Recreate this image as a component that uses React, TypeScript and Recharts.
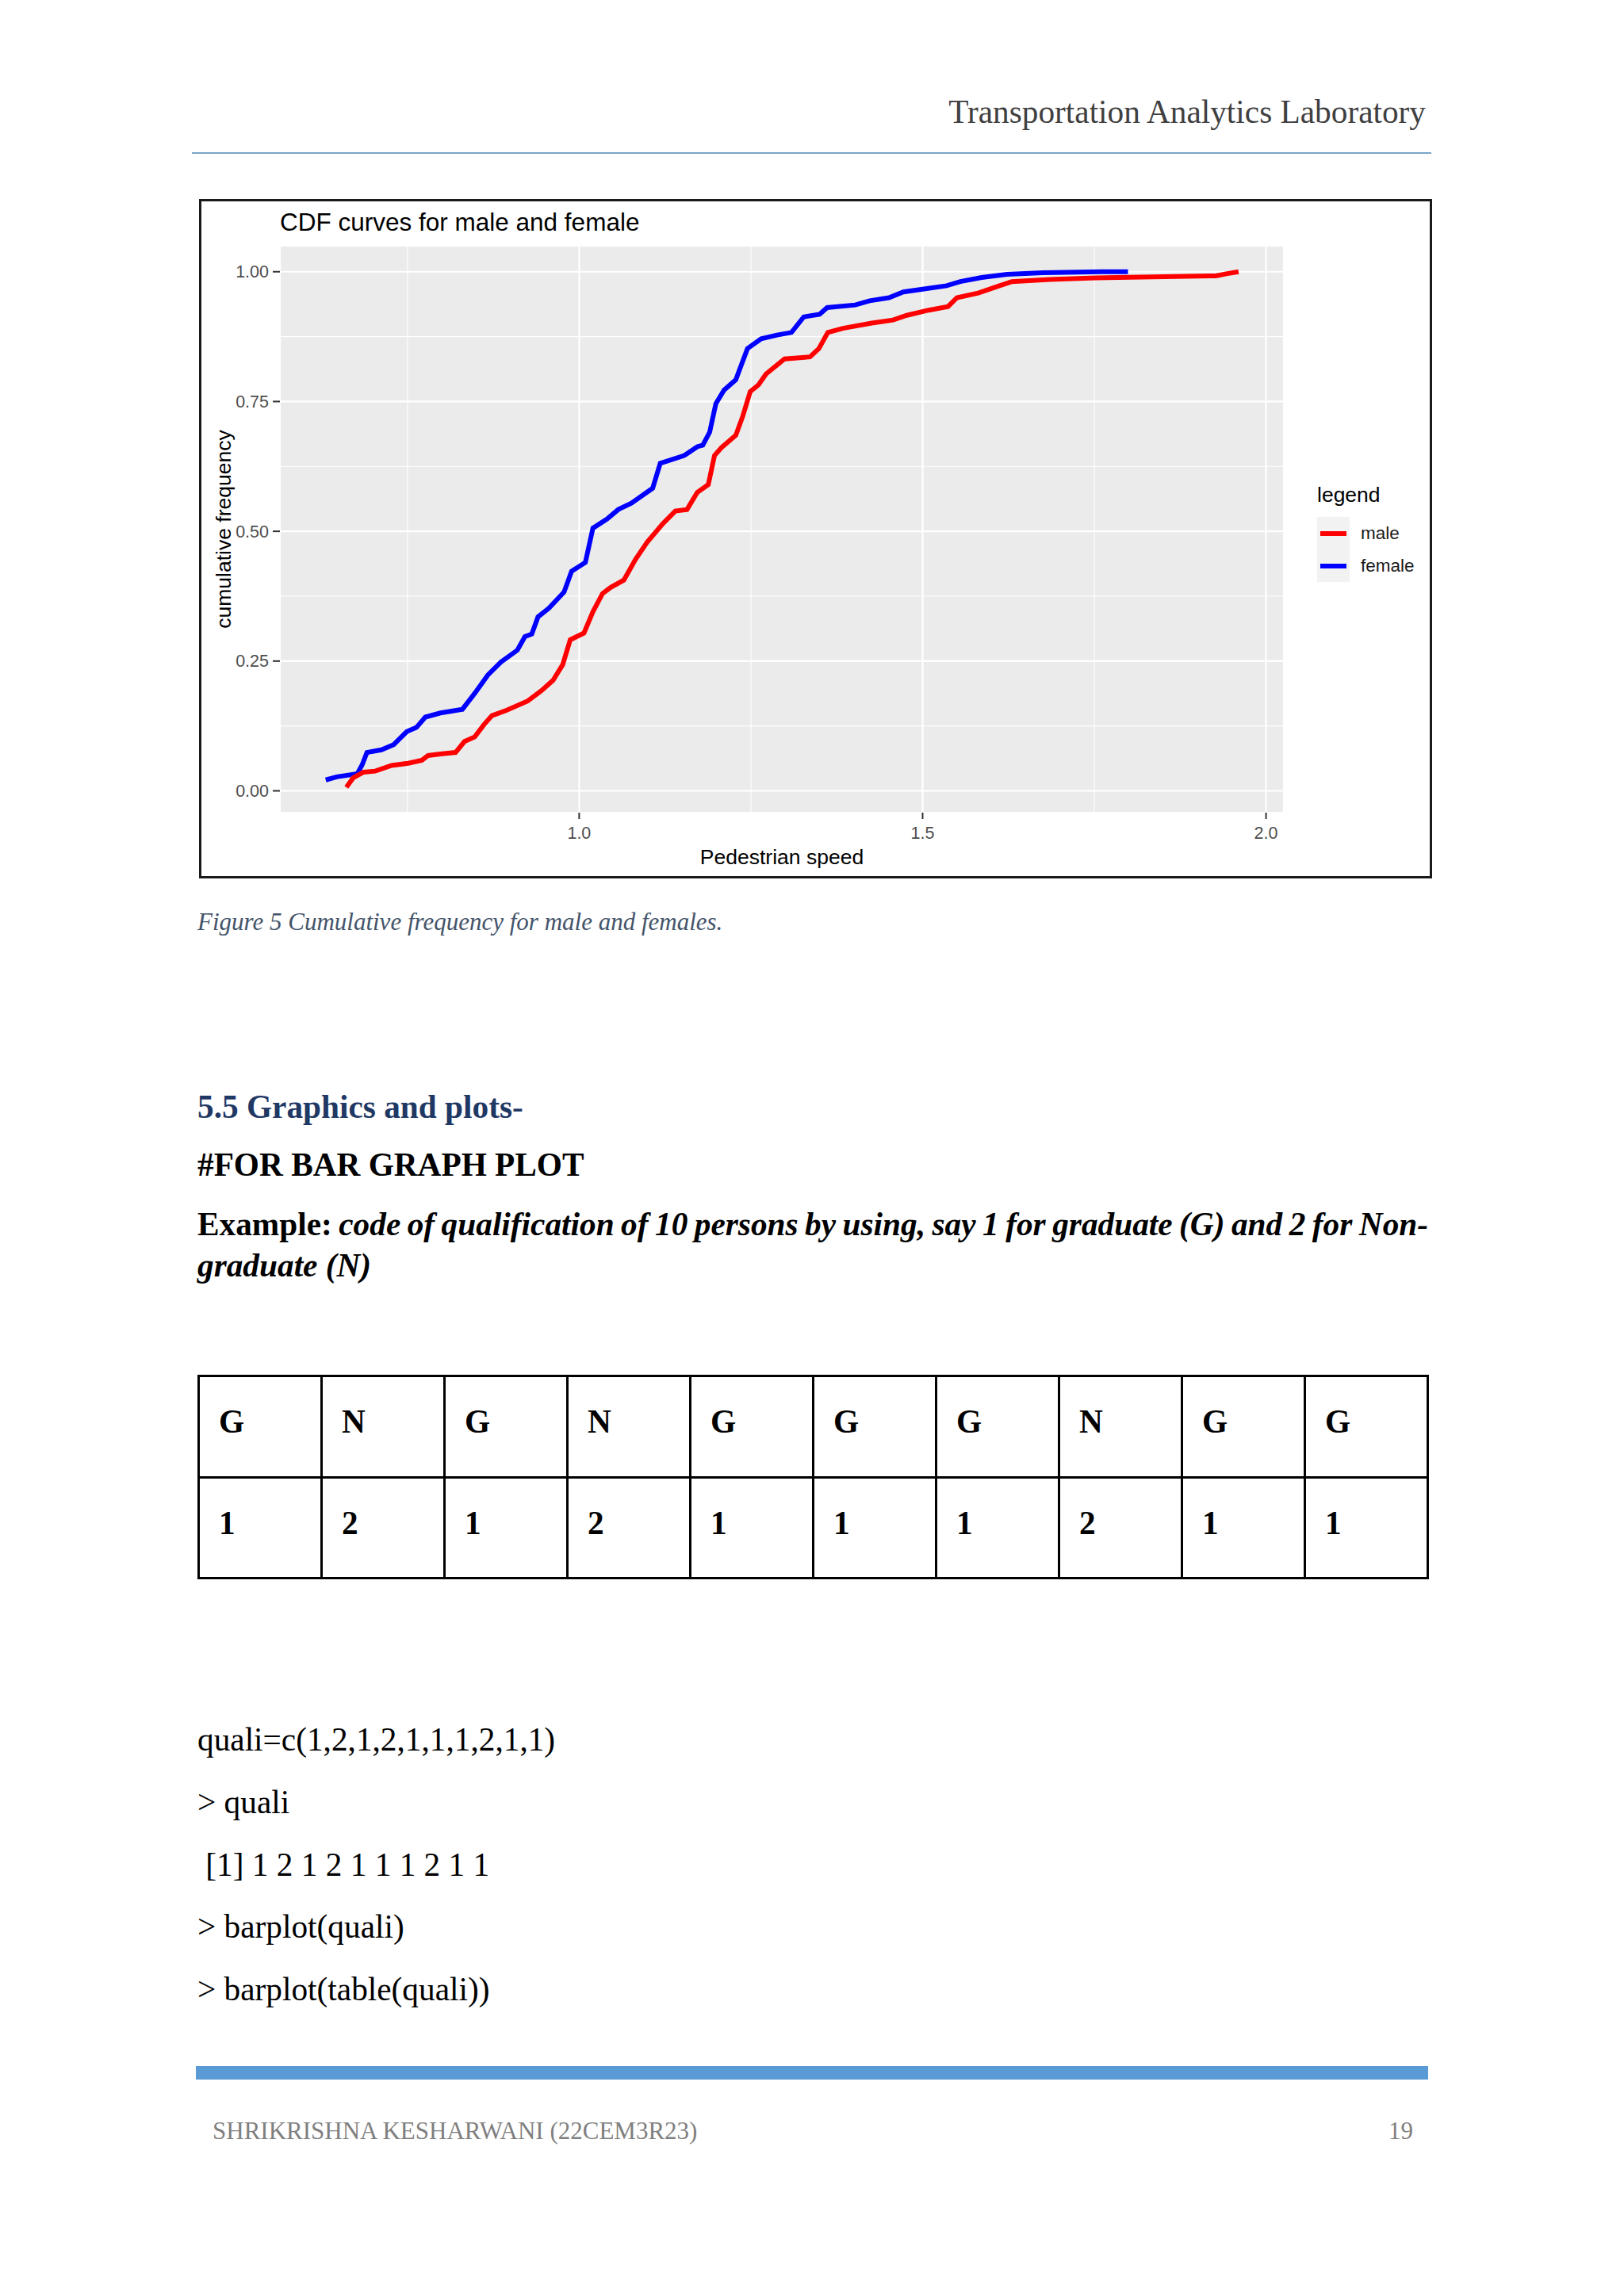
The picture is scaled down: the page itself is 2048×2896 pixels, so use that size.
import React from 'react';
import { LineChart, Line, XAxis, YAxis, CartesianGrid, ReferenceLine, Legend, Label } from 'recharts';

const femaleSpeed = [
  0.631, 0.647, 0.677, 0.684, 0.691, 0.712, 0.73, 0.749, 0.763, 0.776, 0.798, 0.83, 0.848, 0.867,
  0.886, 0.91, 0.921, 0.931, 0.94, 0.956, 0.978, 0.989, 1.009, 1.02, 1.041, 1.057, 1.076, 1.107,
  1.118, 1.153, 1.172, 1.18, 1.19, 1.199, 1.211, 1.228, 1.245, 1.265, 1.288, 1.309, 1.327, 1.35,
  1.361, 1.402, 1.423, 1.451, 1.472, 1.498, 1.535, 1.555, 1.586, 1.623, 1.675, 1.76, 1.799,
];
const femaleCdf = [
  0.021, 0.027, 0.033, 0.05, 0.074, 0.079, 0.089, 0.114, 0.122, 0.142, 0.15, 0.157, 0.188, 0.223,
  0.248, 0.271, 0.297, 0.302, 0.335, 0.352, 0.383, 0.423, 0.44, 0.506, 0.524, 0.542, 0.554, 0.583,
  0.631, 0.646, 0.663, 0.666, 0.691, 0.746, 0.772, 0.792, 0.852, 0.871, 0.878, 0.883, 0.913, 0.918,
  0.931, 0.936, 0.944, 0.95, 0.961, 0.966, 0.973, 0.981, 0.989, 0.995, 0.998, 1.0, 1.0,
];
const maleSpeed = [
  0.661, 0.671, 0.686, 0.703, 0.727, 0.751, 0.771, 0.78, 0.798, 0.82, 0.833, 0.848, 0.861, 0.873,
  0.894, 0.925, 0.945, 0.962, 0.976, 0.987, 1.007, 1.02, 1.034, 1.046, 1.065, 1.082, 1.099, 1.122,
  1.14, 1.157, 1.172, 1.188, 1.197, 1.207, 1.228, 1.238, 1.249, 1.261, 1.272, 1.299, 1.336, 1.349,
  1.362, 1.384, 1.426, 1.457, 1.477, 1.509, 1.537, 1.55, 1.581, 1.612, 1.63, 1.685, 1.752, 1.867,
  1.927, 1.942, 1.96,
];
const maleCdf = [
  0.007, 0.025, 0.036, 0.038, 0.049, 0.053, 0.059, 0.068, 0.071, 0.074, 0.095, 0.104, 0.127, 0.145,
  0.155, 0.173, 0.193, 0.213, 0.243, 0.291, 0.304, 0.345, 0.38, 0.392, 0.406, 0.446, 0.479, 0.515,
  0.539, 0.542, 0.575, 0.59, 0.646, 0.661, 0.685, 0.721, 0.769, 0.782, 0.803, 0.832, 0.836, 0.852,
  0.883, 0.891, 0.901, 0.907, 0.916, 0.926, 0.933, 0.95, 0.959, 0.973, 0.981, 0.985, 0.988, 0.991,
  0.992, 0.996, 1.0,
];

const xTicks = [1.0, 1.5, 2.0];
const xMinor = [0.75, 1.25, 1.75];
const yTicks = [0, 0.25, 0.5, 0.75, 1];
const yMinor = [0.125, 0.375, 0.625, 0.875];

const legendNames = ['male', 'female'];
const colors: Record<string, string> = { male: '#FF0000', female: '#0000FF' };

// the little table on the page
const tableLetters = ['G', 'N', 'G', 'N', 'G', 'G', 'G', 'N', 'G', 'G'];
const tableCodes = ['1', '2', '1', '2', '1', '1', '1', '2', '1', '1'];

const codeLines = [
  'quali=c(1,2,1,2,1,1,1,2,1,1)',
  '> quali',
  '\u00a0[1] 1 2 1 2 1 1 1 2 1 1',
  '> barplot(quali)',
  '> barplot(table(quali))',
];

const toPoints = (xs: number[], ys: number[]) => xs.map((x, i) => ({ speed: x, cdf: ys[i] }));
const femaleData = toPoints(femaleSpeed, femaleCdf);
const maleData = toPoints(maleSpeed, maleCdf);

const SERIF = '"Liberation Serif", "Times New Roman", serif';
const SANS = '"Liberation Sans", Arial, sans-serif';

// place a one-line text by its baseline
const Txt = ({ x, right, base, size, style, children }: any) => (
  <div
    style={{
      position: 'absolute',
      left: x,
      right,
      top: base - size * 0.8375,
      fontSize: size,
      lineHeight: `${size}px`,
      whiteSpace: 'pre',
      fontFamily: SERIF,
      ...style,
    }}
  >
    {children}
  </div>
);

const renderLegend = () => (
  <div style={{ position: 'relative', width: 160, height: 140, fontFamily: SANS }}>
    <div style={{ position: 'absolute', left: 2, top: 32 - 26.5 * 0.8465, fontSize: 26.5, lineHeight: '26.5px', color: '#000' }}>
      legend
    </div>
    {legendNames.map((name, i) => (
      <div key={name} style={{ position: 'absolute', left: 2, top: 51 + i * 41, height: 41, width: 160 }}>
        <div style={{ position: 'absolute', left: 0, top: 0, width: 41, height: 41, background: '#F2F2F2' }} />
        <div style={{ position: 'absolute', left: 4, top: 18, width: 33, height: 6, background: colors[name] }} />
        <div style={{ position: 'absolute', left: 55, top: 9, fontSize: 22.5, lineHeight: '23px', color: '#1a1a1a' }}>{name}</div>
      </div>
    ))}
  </div>
);

const XTitle = ({ viewBox }: any) => (
  <text x={viewBox.x + viewBox.width / 2} y={836} textAnchor="middle" fontFamily={SANS} fontSize={26.5} fill="#000">
    Pedestrian speed
  </text>
);

const YTitle = ({ viewBox }: any) => {
  const cy = viewBox.y + viewBox.height / 2;
  return (
    <text
      x={27.5}
      y={cy}
      transform={`rotate(-90, 27.5, ${cy})`}
      textAnchor="middle"
      dominantBaseline="central"
      fontFamily={SANS}
      fontSize={26.5}
      fill="#000"
    >
      cumulative frequency
    </text>
  );
};

const tickStyle = { fill: '#4D4D4D', fontSize: 21.5, fontFamily: SANS };

const CdfChart = () => (
  <LineChart width={1549} height={851} margin={{ top: 56, right: 184, left: 0, bottom: 0 }}>
    <CartesianGrid fill="#EBEBEB" stroke="#FFFFFF" strokeWidth={2.2} />
    {xMinor.map((v) => (
      <ReferenceLine key={'x' + v} x={v} stroke="#FFFFFF" strokeWidth={1.1} />
    ))}
    {yMinor.map((v) => (
      <ReferenceLine key={'y' + v} y={v} stroke="#FFFFFF" strokeWidth={1.1} />
    ))}
    <XAxis
      type="number"
      dataKey="speed"
      domain={[0.5643, 2.0259]}
      allowDataOverflow
      ticks={xTicks}
      interval={0}
      tickFormatter={(v: number) => v.toFixed(1)}
      height={80}
      tickSize={8}
      tickMargin={10}
      axisLine={false}
      tickLine={{ stroke: '#333333', strokeWidth: 2 }}
      tick={tickStyle}
    >
      <Label content={XTitle} />
    </XAxis>
    <YAxis
      type="number"
      dataKey="cdf"
      domain={[-0.042, 1.05]}
      allowDataOverflow
      ticks={yTicks}
      interval={0}
      tickFormatter={(v: number) => v.toFixed(2)}
      width={99}
      tickSize={9}
      tickMargin={5}
      axisLine={false}
      tickLine={{ stroke: '#333333', strokeWidth: 2 }}
      tick={tickStyle}
    >
      <Label content={YTitle} />
    </YAxis>
    <Legend
      layout="vertical"
      align="center"
      verticalAlign="middle"
      content={renderLegend}
      wrapperStyle={{ left: 1405, top: 347, width: 160 }}
    />
    <Line
      data={femaleData}
      dataKey="cdf"
      name="female"
      type="linear"
      stroke={colors.female}
      strokeWidth={6}
      dot={false}
      isAnimationActive={false}
    />
    <Line
      data={maleData}
      dataKey="cdf"
      name="male"
      type="linear"
      stroke={colors.male}
      strokeWidth={6}
      dot={false}
      isAnimationActive={false}
    />
  </LineChart>
);

export default function App() {
  const pitch = 155;
  const rowPitch = 127.5;
  return (
    <div style={{ position: 'absolute', left: 0, top: 0, width: 2048, height: 2896, background: '#fff', overflow: 'hidden', fontFamily: SERIF }}>
      {/* running header */}
      <Txt right={250} base={156} size={41.3} style={{ color: '#404040' }}>
        Transportation Analytics Laboratory
      </Txt>
      <div style={{ position: 'absolute', left: 242, top: 192, width: 1563, height: 2, background: '#7AA5C9' }} />

      {/* figure */}
      <div style={{ position: 'absolute', left: 251, top: 251, width: 1555, height: 857, border: '3px solid #1a1a1a', boxSizing: 'border-box', background: '#fff' }}>
        <div style={{ position: 'absolute', left: 99, top: 292 - 254 - 31.5 * 0.8465, fontFamily: SANS, fontSize: 31.5, lineHeight: '31.5px', color: '#000', whiteSpace: 'pre' }}>
          CDF curves for male and female
        </div>
        <CdfChart />
      </div>

      <Txt x={249} base={1173} size={31} style={{ fontStyle: 'italic', color: '#44546A' }}>
        Figure 5 Cumulative frequency for male and females.
      </Txt>

      <Txt x={249} base={1411} size={41.3} style={{ fontWeight: 'bold', color: '#1F3864' }}>
        5.5 Graphics and plots-
      </Txt>
      <Txt x={249} base={1484} size={41.3} style={{ fontWeight: 'bold', color: '#000' }}>
        #FOR BAR GRAPH PLOT
      </Txt>
      <div
        style={{
          position: 'absolute',
          left: 249,
          top: 1559 - 41.3 * 0.8375,
          width: 1552,
          fontSize: 41.3,
          lineHeight: '41.3px',
          fontWeight: 'bold',
          textAlign: 'justify',
          textAlignLast: 'justify',
          wordSpacing: '-3px',
          color: '#000',
        }}
      >
        Example: <i>code of qualification of 10 persons by using, say 1 for graduate (G) and 2 for Non-</i>
      </div>
      <Txt x={249} base={1611} size={41.3} style={{ fontWeight: 'bold', fontStyle: 'italic', color: '#000' }}>
        graduate (N)
      </Txt>

      {/* table */}
      {[tableLetters, tableCodes].map((row, r) =>
        row.map((cell, i) => (
          <div
            key={r + '-' + i}
            style={{
              position: 'absolute',
              left: 249 + i * pitch,
              top: 1734 + r * rowPitch,
              width: pitch + 3,
              height: rowPitch + 3,
              border: '3px solid #000',
              boxSizing: 'border-box',
            }}
          >
            <div style={{ position: 'absolute', left: 24, top: 71 - 41.3 * 0.8375, fontSize: 41.3, lineHeight: '41.3px', fontWeight: 'bold' }}>
              {cell}
            </div>
          </div>
        ))
      )}

      {/* R console lines */}
      {codeLines.map((line, i) => (
        <Txt key={i} x={249} base={2209 + i * 78.6} size={41.3} style={{ color: '#000' }}>
          {line}
        </Txt>
      ))}

      {/* footer */}
      <div style={{ position: 'absolute', left: 247, top: 2606, width: 1554, height: 17, background: '#5B9BD5' }} />
      <Txt x={268} base={2698} size={31} style={{ color: '#7F7F7F' }}>
        SHRIKRISHNA KESHARWANI (22CEM3R23)
      </Txt>
      <Txt x={1751} base={2698} size={31} style={{ color: '#7F7F7F' }}>
        19
      </Txt>
    </div>
  );
}
